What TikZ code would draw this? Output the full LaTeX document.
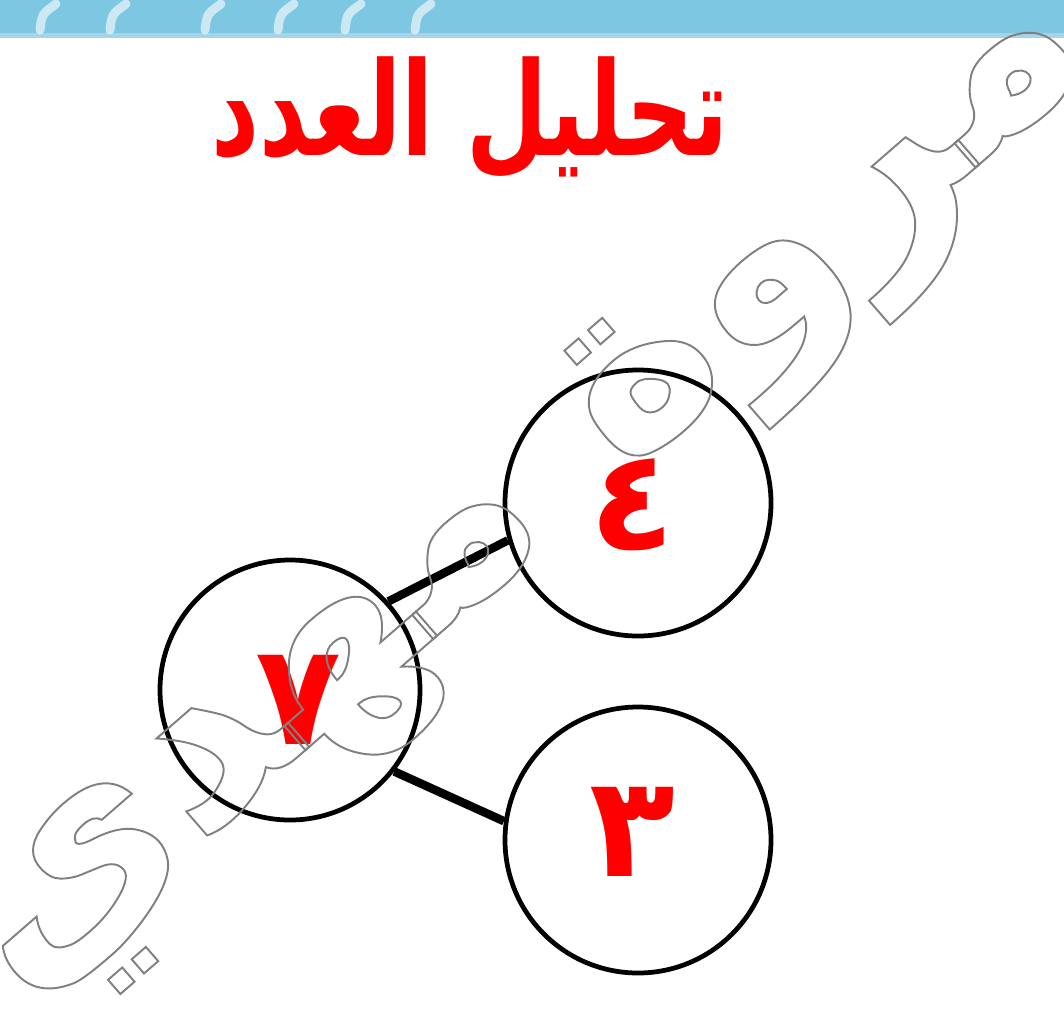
\documentclass[tikz,border=0pt]{standalone}
\usepackage{xcolor}
\usepackage{fontspec}
\usepackage{tikz}
\TeXXeTstate=1
\newfontfamily\arabicfont[Script=Arabic]{DejaVu Sans}
\definecolor{bandblau}{RGB}{125,199,227}
\definecolor{bandrand}{RGB}{165,212,232}
\definecolor{titelrot}{RGB}{255,0,0}
\newcommand{\umriss}{\special{pdf:literal direct 1 Tr 1.1 w}}
\newcommand{\voll}{\special{pdf:literal direct 0 Tr}}

\begin{document}
\begin{tikzpicture}[x=0.2mm,y=-0.2mm,
  kreis/.style={circle,draw,line width=0.95mm,inner sep=0pt},
  ziffer/.style={text=titelrot,font=\arabicfont\bfseries\fontsize{80}{80}\selectfont},
  verbindung/.style={line width=1.7mm}]
\useasboundingbox (0,0) rectangle (1064,1013);
% Band oben
\fill[bandblau] (0,0) rectangle (1064,33);
\fill[bandrand] (0,33) rectangle (1064,38);
\foreach \x in {40,110,205,278,345,415} {
  \draw[white,opacity=0.6,line width=1.8mm,line cap=round] (\x,30) .. controls (\x+2,14) .. (\x+16,4);
}
% Titel
\node[text=titelrot,xscale=0.72,font=\arabicfont\bfseries\fontsize{74}{74}\selectfont] (titel) at (470,118) {\beginR تحليل العدد\endR};
% Kreise
\node[kreis,minimum size=52mm] (sieben) at (290,690) {};
\node[kreis,minimum size=53.2mm] (vier) at (638,503) {};
\node[kreis,minimum size=53.2mm] (drei) at (638,840) {};
% Ziffern
\node[ziffer] (z7) at (298,700) {٧};
\node[ziffer] (z4) at (632,505) {٤};
\node[ziffer] (z3) at (632,832) {٣};
% Verbindungen
\draw[verbindung] (sieben.42) -- (vier.196);
\draw[verbindung] (sieben.-38) -- (drei.172);
% Wasserzeichen
\node[rotate=41,text=gray,font=\arabicfont\bfseries\fontsize{146}{146}\selectfont] (wasserzeichen) at (535,505) {\umriss\beginR مروة مهدي\endR\voll};
\end{tikzpicture}
\end{document}
